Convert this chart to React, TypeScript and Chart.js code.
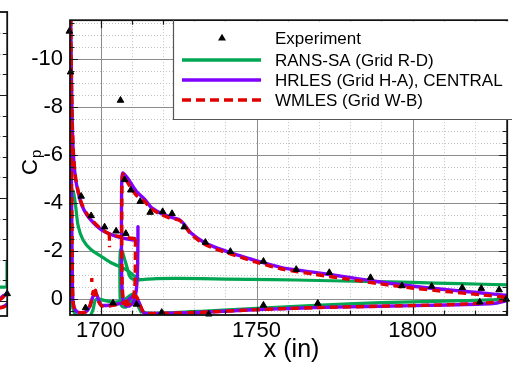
import { useEffect, useRef } from "react";
import { Chart, registerables } from "chart.js";

Chart.register(...registerables);

const FONT = "'Liberation Sans', Arial, Helvetica, sans-serif";

// ---------- axis ranges & ticks ----------
const X_MIN = 1690.22;
const X_MAX = 1830.3;
const Y_MIN = -11.61;
const Y_MAX = 0.677;
const X_TICKS = [1700, 1750, 1800];
const X_MINOR = [1700, 1710, 1720, 1730, 1740, 1750, 1760, 1770, 1780, 1790, 1800, 1810, 1820, 1830];
const Y_TICKS = [-10, -8, -6, -4, -2, 0];
const Y_MINOR = [-11.5, -11, -10.5, -10, -9.5, -9, -8.5, -8, -7.5, -7, -6.5, -6, -5.5, -5, -4.5, -4, -3.5, -3, -2.5, -2, -1.5, -1, -0.5, 0, 0.5];

// ---------- series labels ----------
const LABEL_EXP = "Experiment";
const LABEL_RANS = "RANS-SA (Grid R-D)";
const LABEL_HRLES = "HRLES (Grid H-A), CENTRAL";
const LABEL_WMLES = "WMLES (Grid W-B)";

// ---------- experiment (x, Cp) ----------
const EXPERIMENT: [number, number][] = [
  [1690.0, -11.15], [1690.4, -9.45], [1706.4, -8.27],
  [1693.8, -4.27], [1697.0, -3.46], [1701.3, -2.99], [1705.0, -2.82], [1708.1, -2.72],
  [1707.7, -4.96], [1709.7, -4.53], [1712.7, -4.05], [1715.9, -3.6], [1719.9, -3.63], [1722.9, -3.55],
  [1726.8, -2.99], [1733.6, -2.35], [1741.6, -1.97], [1752.2, -1.56], [1762.7, -1.22], [1773.3, -1.09],
  [1786.5, -0.88], [1796.6, -0.54], [1806.1, -0.52], [1815.9, -0.46], [1822.0, -0.43], [1827.7, -0.37],
  [1695.2, 0.38], [1704.0, 0.18], [1711.5, 0.23], [1719.6, 0.57], [1734.7, 0.64], [1752.2, 0.27],
  [1769.6, 0.19], [1821.5, 0.14], [1830.0, 0.02],
];

// ---------- RANS-SA ----------
const RANS_SLAT: [number, number][] = [
  [1712.5, -0.8], [1710.8, -0.95], [1708.6, -1.18], [1706.5, -1.32], [1703.4, -1.5], [1700.2, -1.77],
  [1697.0, -2.04], [1694.4, -2.45], [1692.8, -3.06], [1691.9, -4.0], [1691.2, -4.5], [1690.8, -4.3],
  [1690.6, -3.0], [1690.7, -1.0], [1690.9, 0.2],
  [1691.5, 0.55], [1692.5, 0.72], [1694.5, 0.78], [1696.5, 0.75], [1697.6, 0.45], [1698.2, 0.1],
  [1699.0, 0.0], [1701.5, 0.08], [1704.5, 0.14], [1707.5, 0.06], [1709.3, -0.12], [1710.5, -0.2],
  [1711.4, 0.0], [1712.2, 0.35], [1713.0, 0.55],
];
const RANS_MAIN: [number, number][] = [
  [1832.0, -0.57], [1830.5, -0.58], [1815.0, -0.63], [1800.0, -0.68], [1785.0, -0.72], [1770.0, -0.76],
  [1755.0, -0.8], [1740.0, -0.82], [1725.0, -0.85], [1718.0, -0.84], [1713.5, -0.8], [1711.5, -0.79],
  [1710.3, -0.82], [1709.3, -0.95], [1708.5, -1.3], [1707.6, -1.7], [1707.0, -1.95], [1706.5, -2.05],
  [1706.25, -1.8], [1706.2, -1.0], [1706.3, 0.0], [1706.8, 0.3], [1708.0, 0.35], [1709.5, 0.15],
  [1710.8, -0.1], [1711.8, 0.1], [1712.8, 0.4], [1714.0, 0.58], [1719.0, 0.6], [1735.0, 0.5],
  [1750.0, 0.4], [1769.0, 0.27], [1790.0, 0.16], [1810.0, 0.1], [1825.0, 0.05], [1830.5, 0.0], [1832.0, -0.02],
];

// ---------- HRLES ----------
const HRLES_SLAT: [number, number][] = [
  [1711.9, -2.42], [1708.3, -2.5], [1705.0, -2.6], [1701.5, -2.78], [1699.8, -2.92], [1697.5, -3.2],
  [1695.6, -3.5], [1694.0, -3.9], [1692.9, -4.4], [1692.0, -5.0], [1691.4, -5.8], [1691.0, -7.0],
  [1690.7, -9.0], [1690.5, -11.0], [1690.4, -12.4], [1690.45, -10.0], [1690.6, -6.0], [1690.8, -3.0],
  [1690.95, -1.0], [1691.1, 0.0], [1691.5, 0.35], [1692.3, 0.52], [1693.4, 0.58], [1695.3, 0.55],
  [1696.6, 0.3], [1697.6, -0.1], [1698.7, -0.2], [1699.5, 0.1], [1700.4, 0.27], [1702.9, 0.27],
  [1706.1, 0.2], [1708.7, 0.07], [1710.9, -0.14], [1712.5, 0.2], [1713.4, 0.5], [1714.1, 0.6],
  [1718.8, 0.61], [1731.5, 0.57], [1747.4, 0.47], [1757.0, 0.42], [1768.6, 0.37], [1789.6, 0.31],
  [1810.9, 0.26], [1825.7, 0.2], [1829.0, 0.12], [1830.5, 0.05], [1832.0, 0.0],
];
const HRLES_MAIN: [number, number][] = [
  [1712.0, -3.0], [1711.95, -2.0], [1711.8, -1.0], [1711.4, -0.3], [1710.6, 0.12], [1709.3, 0.3],
  [1708.0, 0.28], [1707.2, 0.05], [1706.8, -0.8], [1706.7, -2.5], [1706.75, -4.5], [1706.9, -5.1],
  [1707.2, -5.24], [1708.8, -5.0], [1711.4, -4.49], [1714.1, -4.15], [1716.2, -3.81], [1718.8, -3.6],
  [1722.0, -3.42], [1725.2, -3.3], [1726.8, -3.1], [1728.9, -2.75], [1732.6, -2.4], [1736.8, -2.14],
  [1742.1, -1.9], [1746.3, -1.72], [1750.6, -1.56], [1758.0, -1.3], [1768.6, -1.1], [1779.1, -0.9],
  [1789.7, -0.7], [1800.3, -0.52], [1810.9, -0.38], [1821.4, -0.25], [1830.5, -0.14], [1832.0, -0.12],
];

// ---------- WMLES ----------
const WMLES_SLAT: [number, number][] = [
  [1711.3, -2.5], [1708.3, -2.55], [1705.0, -2.62], [1702.8, -2.7], [1701.5, -2.8], [1699.8, -2.95],
  [1697.5, -3.25], [1695.6, -3.55], [1694.0, -3.95], [1692.9, -4.45], [1692.0, -5.05], [1691.4, -5.9],
  [1691.0, -7.1], [1690.7, -9.1], [1690.5, -11.0], [1690.42, -12.4], [1690.5, -10.0], [1690.65, -6.0],
  [1690.85, -3.0], [1691.0, -1.0], [1691.15, 0.0], [1691.5, 0.35], [1692.3, 0.52], [1693.4, 0.58],
  [1695.3, 0.55], [1696.6, 0.3], [1697.3, -0.05], [1697.6, -0.3], [1698.0, -0.1], [1698.4, -0.35],
  [1698.9, 0.0], [1699.5, 0.15], [1700.4, 0.3], [1702.9, 0.3], [1706.1, 0.22], [1708.7, 0.1],
  [1710.5, -0.05], [1711.5, -0.1], [1712.6, 0.25], [1713.5, 0.5], [1714.1, 0.6], [1718.8, 0.61],
  [1731.5, 0.57], [1747.4, 0.47], [1757.0, 0.42], [1768.6, 0.37], [1789.6, 0.31], [1810.9, 0.25],
  [1825.7, 0.15], [1829.0, 0.06], [1830.5, 0.0], [1832.0, -0.05],
];
const WMLES_MAIN: [number, number][] = [
  [1711.2, -2.5], [1711.15, -1.5], [1711.0, -0.47], [1710.5, -0.05], [1709.5, 0.2], [1708.2, 0.25],
  [1707.3, 0.05], [1706.9, -0.8], [1706.8, -2.5], [1706.85, -4.5], [1707.0, -5.05], [1707.3, -5.2],
  [1708.8, -4.82], [1711.4, -4.32], [1714.1, -4.05], [1716.2, -3.75], [1718.8, -3.55], [1722.0, -3.37],
  [1725.2, -3.27], [1726.8, -3.08], [1728.9, -2.7], [1732.6, -2.33], [1736.8, -2.08], [1742.1, -1.85],
  [1746.3, -1.67], [1750.6, -1.5], [1758.0, -1.24], [1768.6, -1.02], [1779.1, -0.82], [1789.7, -0.62],
  [1800.3, -0.44], [1810.9, -0.3], [1821.4, -0.17], [1830.5, -0.05], [1832.0, -0.02],
];
const WMLES_BLIP: [number, number][] = [[1702.8, -2.75], [1702.9, -2.15]];
const WMLES_DOT: [number, number][] = [[1697.2, -0.86], [1697.2, -0.7]];

// ---------- partial left panel (cut off at the image edge) ----------
const LEFT_Y_MIN = -2.806;
const LEFT_Y_MAX = 0.146;
const LEFT_Y_TICKS = [-2, -1, 0];
const LEFT_Y_MINOR = [-2.6, -2.4, -2.2, -2, -1.8, -1.6, -1.4, -1.2, -1, -0.8, -0.6, -0.4, -0.2, 0];
const LEFT_RANS: [number, number][] = [[0.6, -0.137], [0.99, -0.137], [0.996, -0.16], [0.997, -0.38]];
const LEFT_HRLES_A: [number, number][] = [[0.6, -0.03], [0.85, -0.02], [0.93, -0.05], [0.97, -0.06], [1.0, -0.08]];
const LEFT_HRLES_B: [number, number][] = [[0.6, 0.07], [0.85, 0.065], [0.95, 0.05], [1.0, 0.03]];
const LEFT_WMLES_A: [number, number][] = [[0.6, -0.02], [0.85, -0.01], [0.93, -0.04], [0.97, -0.07], [1.0, -0.09]];
const LEFT_WMLES_B: [number, number][] = [[0.6, 0.075], [0.85, 0.07], [0.95, 0.055], [1.0, 0.035]];
const LEFT_EXP: [number, number][] = [[1.0, -0.07]];

// ---------- styles ----------
const GREEN = "#00a651";
const PURPLE = "#8000ff";
const RED = "#e00000";

function seg(data: [number, number][], color: string, width: number, order: number, dash?: number[]) {
  return {
    type: "scatter",
    data: data.map(([x, y]) => ({ x, y })),
    showLine: true,
    borderColor: color,
    backgroundColor: color,
    borderWidth: width,
    borderDash: dash ?? [],
    borderCapStyle: dash ? "butt" : "round",
    borderJoinStyle: "round",
    pointRadius: 0,
    pointHoverRadius: 0,
    tension: 0.25,
    order,
  };
}

function expSet(data: [number, number][]) {
  return {
    type: "scatter",
    label: LABEL_EXP,
    data: data.map(([x, y]) => ({ x, y })),
    pointStyle: "triangle",
    pointRadius: 3.8,
    pointHoverRadius: 3.8,
    backgroundColor: "#000",
    borderColor: "#000",
    borderWidth: 1,
    showLine: false,
    clip: false,
    order: 0,
  };
}

function framePlugin(cfg: { xMajor: number[]; xMinor: number[]; yMajor: number[]; yMinor: number[] }) {
  return {
    id: "frame",
    beforeDatasetsDraw(chart: any) {
      const { ctx, chartArea: a, scales } = chart;
      const xs = scales.x;
      const ys = scales.y;
      ctx.save();
      ctx.lineWidth = 1;
      ctx.strokeStyle = "#c2c2c2";
      ctx.setLineDash([1, 2]);
      ctx.beginPath();
      for (const v of cfg.xMinor) {
        if (cfg.xMajor.includes(v)) continue;
        const p = Math.round(xs.getPixelForValue(v)) + 0.5;
        if (p <= a.left || p >= a.right) continue;
        ctx.moveTo(p, a.top);
        ctx.lineTo(p, a.bottom);
      }
      for (const v of cfg.yMinor) {
        if (cfg.yMajor.includes(v)) continue;
        const p = Math.round(ys.getPixelForValue(v)) + 0.5;
        if (p <= a.top || p >= a.bottom) continue;
        ctx.moveTo(a.left, p);
        ctx.lineTo(a.right, p);
      }
      ctx.stroke();
      ctx.setLineDash([]);
      ctx.strokeStyle = "#8c8c8c";
      ctx.beginPath();
      for (const v of cfg.xMajor) {
        const p = Math.round(xs.getPixelForValue(v)) + 0.5;
        ctx.moveTo(p, a.top);
        ctx.lineTo(p, a.bottom);
      }
      for (const v of cfg.yMajor) {
        const p = Math.round(ys.getPixelForValue(v)) + 0.5;
        ctx.moveTo(a.left, p);
        ctx.lineTo(a.right, p);
      }
      ctx.stroke();
      ctx.restore();
    },
    afterDatasetsDraw(chart: any) {
      const { ctx, chartArea: a, scales } = chart;
      const xs = scales.x;
      const ys = scales.y;
      ctx.save();
      ctx.strokeStyle = "#1a1a1a";
      ctx.lineWidth = 1.2;
      ctx.beginPath();
      const tick = (v: number, major: boolean, axis: "x" | "y") => {
        const len = major ? 8 : 4.5;
        if (axis === "x") {
          const p = Math.round(xs.getPixelForValue(v)) + 0.5;
          if (p <= a.left || p >= a.right) return;
          ctx.moveTo(p, a.bottom);
          ctx.lineTo(p, a.bottom - len);
          ctx.moveTo(p, a.top);
          ctx.lineTo(p, a.top + len);
        } else {
          const p = Math.round(ys.getPixelForValue(v)) + 0.5;
          if (p <= a.top || p >= a.bottom) return;
          ctx.moveTo(a.left, p);
          ctx.lineTo(a.left + len, p);
          ctx.moveTo(a.right, p);
          ctx.lineTo(a.right - len, p);
        }
      };
      for (const v of cfg.xMinor) tick(v, cfg.xMajor.includes(v), "x");
      for (const v of cfg.yMinor) tick(v, cfg.yMajor.includes(v), "y");
      ctx.stroke();
      ctx.lineWidth = 1.8;
      ctx.strokeStyle = "#111";
      ctx.strokeRect(a.left, a.top, a.right - a.left, a.bottom - a.top);
      ctx.restore();
    },
  };
}

const decorPlugin = {
  id: "decor",
  afterDraw(chart: any) {
    const { ctx, chartArea: a } = chart;
    ctx.save();
    // legend box
    const bx = 173.5;
    const by = a.top;
    const bb = 119.5;
    ctx.fillStyle = "#fff";
    ctx.fillRect(bx, by + 1, 600, bb - by - 1);
    ctx.strokeStyle = "#555";
    ctx.lineWidth = 1.2;
    ctx.beginPath();
    ctx.moveTo(bx, by);
    ctx.lineTo(bx, bb);
    ctx.lineTo(600, bb);
    ctx.stroke();

    const rows = [38, 60, 80, 100];
    const lx0 = 182;
    const lx1 = 261;
    const tx = 275;
    // experiment marker
    ctx.fillStyle = "#000";
    ctx.beginPath();
    ctx.moveTo(222, rows[0] - 4.2);
    ctx.lineTo(218, rows[0] + 2.6);
    ctx.lineTo(226, rows[0] + 2.6);
    ctx.closePath();
    ctx.fill();
    const sample = (y: number, color: string, dash: number[]) => {
      ctx.strokeStyle = color;
      ctx.lineWidth = 3.3;
      ctx.setLineDash(dash);
      ctx.lineCap = "butt";
      ctx.beginPath();
      ctx.moveTo(lx0, y);
      ctx.lineTo(lx1, y);
      ctx.stroke();
      ctx.setLineDash([]);
    };
    sample(rows[1], GREEN, []);
    sample(rows[2], PURPLE, []);
    sample(rows[3], RED, [9, 5]);
    ctx.fillStyle = "#000";
    ctx.font = `17px ${FONT}`;
    ctx.textAlign = "left";
    ctx.textBaseline = "middle";
    [LABEL_EXP, LABEL_RANS, LABEL_HRLES, LABEL_WMLES].forEach((t, i) => ctx.fillText(t, tx, rows[i] + 1));

    // x axis title
    ctx.font = `25px ${FONT}`;
    ctx.textAlign = "center";
    ctx.textBaseline = "middle";
    ctx.fillText("x (in)", (a.left + a.right) / 2 + 3, 350);

    // y axis title: C with subscript p, rotated
    ctx.translate(37, 175);
    ctx.rotate(-Math.PI / 2);
    ctx.textAlign = "left";
    ctx.textBaseline = "alphabetic";
    ctx.font = `22px ${FONT}`;
    ctx.fillText("C", 0, 0);
    const wc = ctx.measureText("C").width;
    ctx.font = `15px ${FONT}`;
    ctx.fillText("p", wc + 1, 4);
    ctx.restore();
  },
};

export default function App() {
  const mainRef = useRef<HTMLCanvasElement>(null);
  const leftRef = useRef<HTMLCanvasElement>(null);

  useEffect(() => {
    const tickFont = { family: FONT, size: 22 };
    const main = new Chart(mainRef.current as HTMLCanvasElement, {
      type: "scatter",
      data: {
        datasets: [
          expSet(EXPERIMENT),
          { ...seg(WMLES_SLAT, RED, 3.4, 1, [8, 5]), label: LABEL_WMLES },
          seg(WMLES_MAIN, RED, 3.4, 1, [8, 5]),
          seg(WMLES_BLIP, RED, 3.4, 1, [8, 5]),
          seg(WMLES_DOT, RED, 3.4, 1, [8, 5]),
          { ...seg(HRLES_SLAT, PURPLE, 3.4, 2), label: LABEL_HRLES },
          seg(HRLES_MAIN, PURPLE, 3.4, 2),
          { ...seg(RANS_SLAT, GREEN, 3.2, 3), label: LABEL_RANS },
          seg(RANS_MAIN, GREEN, 3.2, 3),
        ] as any,
      },
      options: {
        animation: false,
        responsive: false,
        devicePixelRatio: 1,
        layout: { padding: { top: 12, right: 1, left: 0, bottom: 0 } },
        plugins: { legend: { display: false }, tooltip: { enabled: false } },
        events: [],
        scales: {
          x: {
            type: "linear",
            min: X_MIN,
            max: X_MAX,
            afterBuildTicks: (s: any) => {
              s.ticks = X_TICKS.map((v) => ({ value: v }));
            },
            afterFit: (s: any) => {
              s.height = 52;
            },
            grid: { display: false, drawTicks: false },
            border: { display: false },
            ticks: {
              font: tickFont,
              color: "#000",
              padding: 3,
              maxRotation: 0,
              autoSkip: false,
              callback: (v: any) => String(v),
            },
          },
          y: {
            type: "linear",
            min: Y_MIN,
            max: Y_MAX,
            reverse: true,
            afterBuildTicks: (s: any) => {
              s.ticks = Y_TICKS.map((v) => ({ value: v }));
            },
            afterFit: (s: any) => {
              s.width = 70;
            },
            grid: { display: false, drawTicks: false },
            border: { display: false },
            ticks: {
              font: tickFont,
              color: "#000",
              padding: 7,
              autoSkip: false,
              callback: (v: any) => String(v),
            },
          },
        },
      } as any,
      plugins: [framePlugin({ xMajor: X_TICKS, xMinor: X_MINOR, yMajor: Y_TICKS, yMinor: Y_MINOR }), decorPlugin],
    });

    const left = new Chart(leftRef.current as HTMLCanvasElement, {
      type: "scatter",
      data: {
        datasets: [
          expSet(LEFT_EXP),
          seg(LEFT_WMLES_A, RED, 3.4, 1, [8, 5]),
          seg(LEFT_WMLES_B, RED, 3.4, 1, [8, 5]),
          seg(LEFT_HRLES_A, PURPLE, 3.4, 2),
          seg(LEFT_HRLES_B, PURPLE, 3.4, 2),
          seg(LEFT_RANS, GREEN, 3.2, 3),
        ] as any,
      },
      options: {
        animation: false,
        responsive: false,
        devicePixelRatio: 1,
        layout: { padding: { top: 12, right: 0.5, left: 140, bottom: 51 } },
        plugins: { legend: { display: false }, tooltip: { enabled: false } },
        events: [],
        scales: {
          x: { type: "linear", min: 0, max: 1, display: false },
          y: { type: "linear", min: LEFT_Y_MIN, max: LEFT_Y_MAX, reverse: true, display: false },
        },
      } as any,
      plugins: [framePlugin({ xMajor: [], xMinor: [], yMajor: LEFT_Y_TICKS, yMinor: LEFT_Y_MINOR })],
    });

    return () => {
      main.destroy();
      left.destroy();
    };
  }, []);

  return (
    <div style={{ position: "fixed", left: 0, top: 0, width: 512, height: 367, overflow: "hidden", background: "#fff" }}>
      <canvas ref={leftRef} width={200} height={367} style={{ position: "absolute", left: -188, top: 0, width: 200, height: 367 }} />
      <canvas ref={mainRef} width={512} height={367} style={{ position: "absolute", left: 0, top: 0, width: 512, height: 367 }} />
    </div>
  );
}
